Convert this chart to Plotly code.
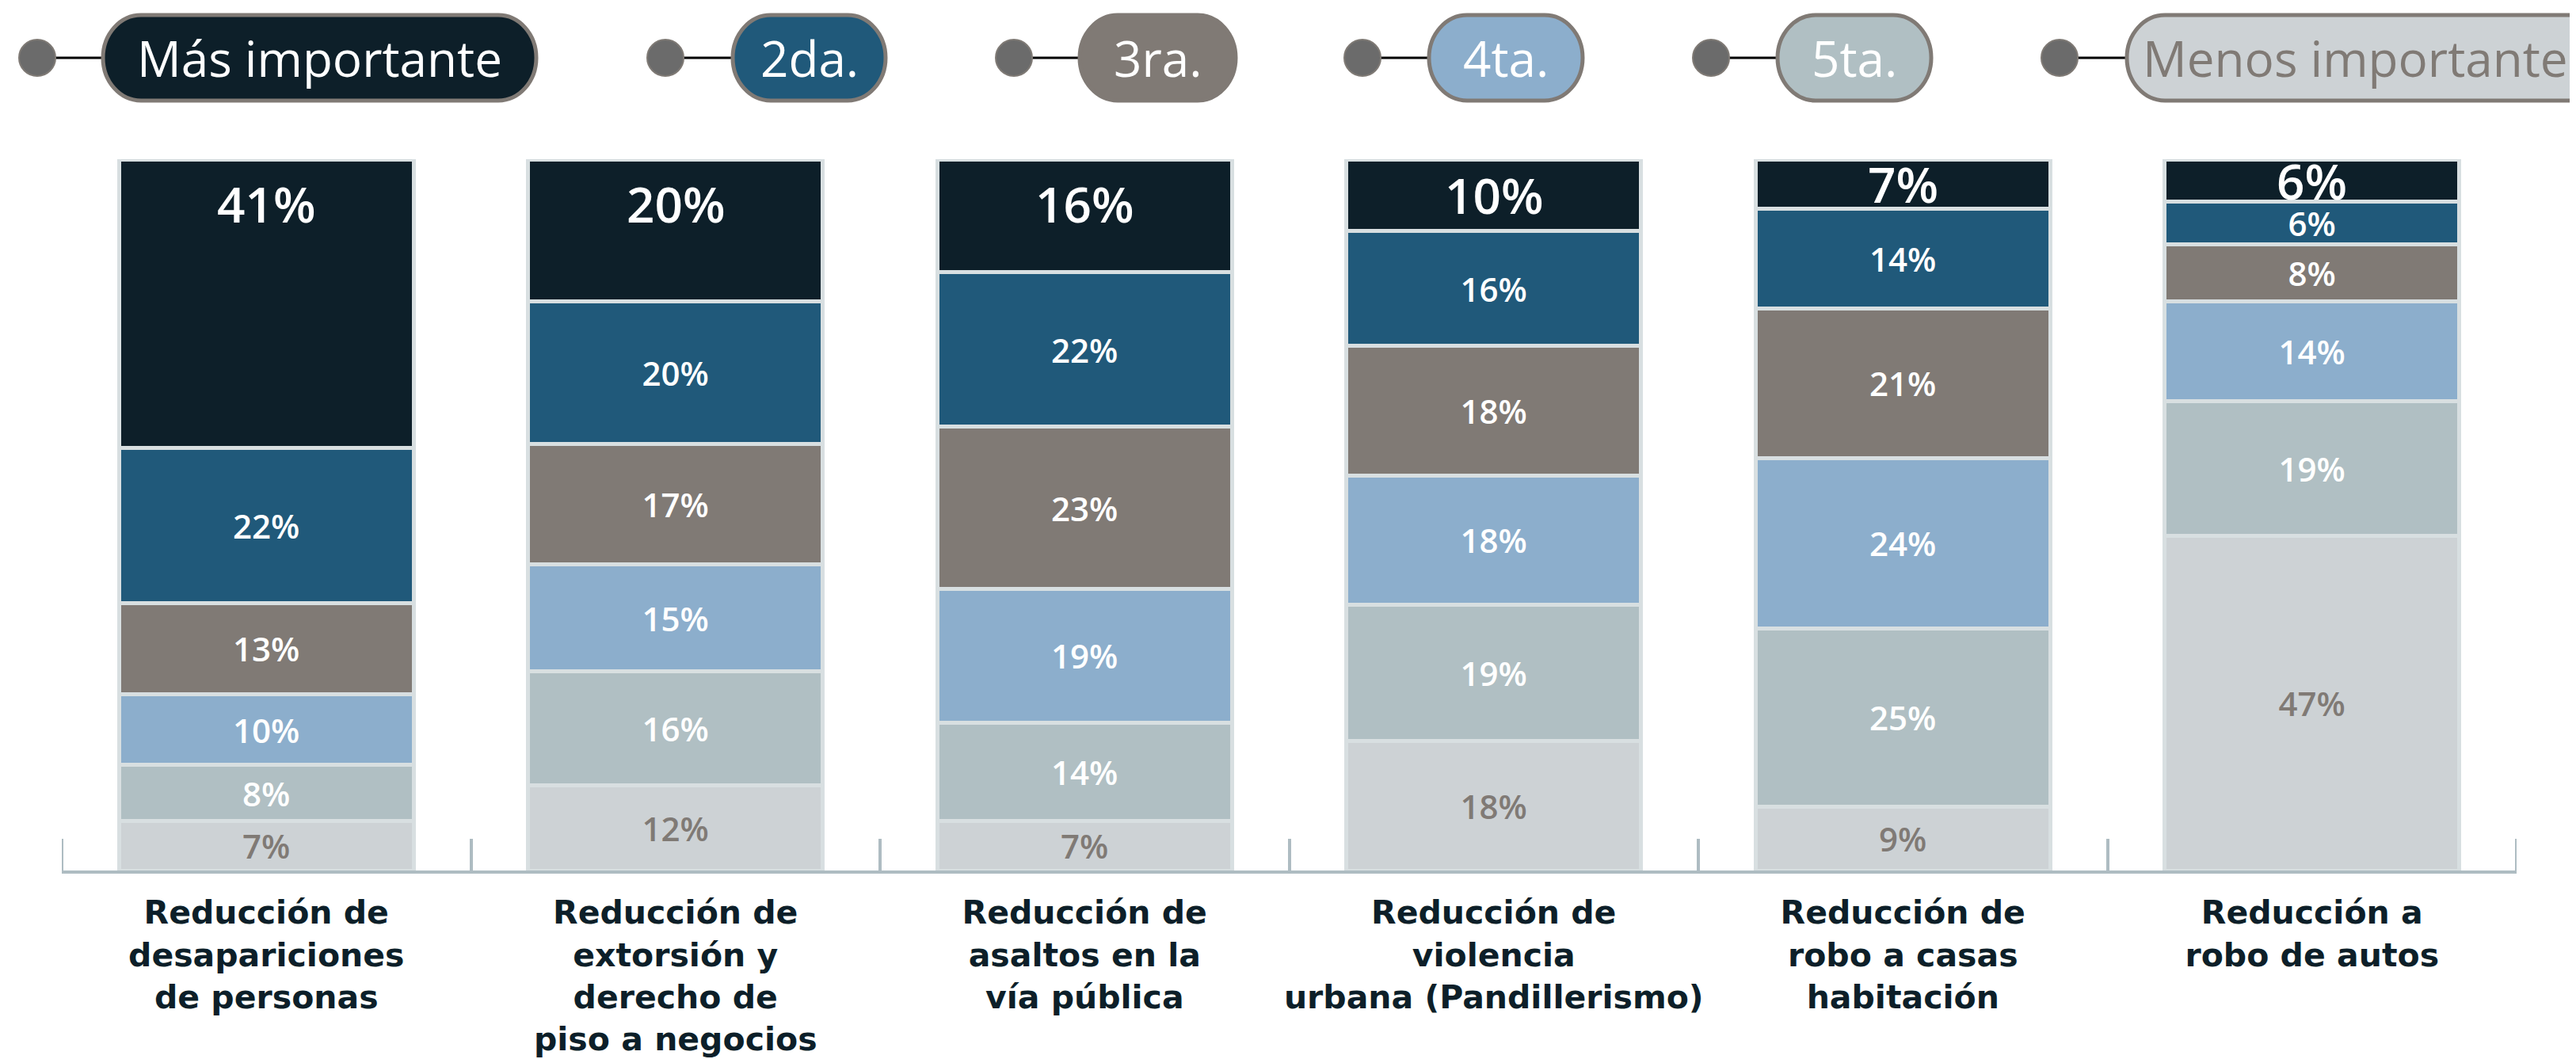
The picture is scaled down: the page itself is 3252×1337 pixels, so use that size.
import plotly.graph_objects as go

# data -------------------------------------------------------------
categorias = [
    'Reducción de<br>desapariciones<br>de personas',
    'Reducción de<br>extorsión y<br>derecho de<br>piso a negocios',
    'Reducción de<br>asaltos en la<br>vía pública',
    'Reducción de<br>violencia<br>urbana (Pandillerismo)',
    'Reducción de<br>robo a casas<br>habitación',
    'Reducción a<br>robo de autos',
]

rangos = ['Más importante', '2da.', '3ra.', '4ta.', '5ta.', 'Menos importante']

mas_importante = [41, 20, 16, 10, 7, 6]
segunda = [22, 20, 22, 16, 14, 6]
tercera = [13, 17, 23, 18, 21, 8]
cuarta = [10, 15, 19, 18, 24, 14]
quinta = [8, 16, 14, 19, 25, 19]
menos_importante = [7, 12, 7, 18, 9, 47]

# styles -----------------------------------------------------------
colores = ['#0d1f29', '#20597a', '#807a75', '#8caecc', '#b0bfc3', '#cdd2d5']
texto_color = ['white', 'white', 'white', 'white', 'white', '#807a75']
font_family = 'Open Sans'
label_family = 'DejaVu Sans'

W, H = 3252, 1337
PAGE_OFFSET = 8  # default body margin of the html page
# plot area in page pixels
PLOT_L, PLOT_R = 78, 3177
PLOT_T, PLOT_B = 201, 1099

# legend layout in page pixels: dot centre x, pill left, pill right
LEGEND_POS = [
    (47, 130, 677),
    (840, 925, 1118),
    (1280, 1363, 1560),
    (1720, 1804, 1998),
    (2160, 2244, 2438),
    (2600, 2685, 3300),
]
LEGEND_Y = 73
PILL_H = 108
DOT_R = 23
TOP_LABEL_OFFSET = 56  # px below the bar top for the big first-rank label


def px_x(x):
    return (x - PLOT_L) / (PLOT_R - PLOT_L)


def px_y(y):
    return (PLOT_B - y) / (PLOT_B - PLOT_T)


def pill_path(x0, x1, yc, h, rx=48):
    ry = h / 2
    yt, yb = yc - ry, yc + ry
    k = 0.5523
    pts = [
        ('M', [(x0 + rx, yt)]),
        ('L', [(x1 - rx, yt)]),
        ('C', [(x1 - rx + k * rx, yt), (x1, yc - k * ry), (x1, yc)]),
        ('C', [(x1, yc + k * ry), (x1 - rx + k * rx, yb), (x1 - rx, yb)]),
        ('L', [(x0 + rx, yb)]),
        ('C', [(x0 + rx - k * rx, yb), (x0, yc + k * ry), (x0, yc)]),
        ('C', [(x0, yc - k * ry), (x0 + rx - k * rx, yt), (x0 + rx, yt)]),
    ]
    path = ''
    for cmd, p in pts:
        path += cmd + ' ' + ' '.join(f'{px_x(a):.5f},{px_y(b):.5f}' for a, b in p) + ' '
    return path + 'Z'


series = [mas_importante, segunda, tercera, cuarta, quinta, menos_importante]
totales = [sum(col) for col in zip(*series)]

fig = go.Figure()

# stack from the bottom (menos importante) to the top (más importante)
for i in reversed(range(len(rangos))):
    vals = series[i]
    top = i == 0
    fig.add_trace(go.Bar(
        x=categorias,
        y=vals,
        name=rangos[i],
        text=None if top else [f'{v}%' for v in vals],
        textposition='none' if top else 'inside',
        insidetextanchor='middle',
        textangle=0,
        constraintext='none',
        textfont=dict(family=font_family, size=42,
                      color=texto_color[i], weight=600),
        marker=dict(color=colores[i], line=dict(color='#d8dfe1', width=5)),
        showlegend=False,
    ))

annotations = []

# big labels of the first-rank segment: near the top, centred if the segment is short
offset = TOP_LABEL_OFFSET / (PLOT_B - PLOT_T) * 100
for cat, v, tot in zip(categorias, mas_importante, totales):
    seg = v / tot * 100
    annotations.append(dict(
        text=f'{v}%', x=cat, y=100 - min(seg / 2, offset), xref='x', yref='y',
        xanchor='center', yanchor='middle', showarrow=False,
        font=dict(family=font_family, size=62, color='white', weight=600),
    ))

shapes = []
for i, (dx, x0, x1) in enumerate(LEGEND_POS):
    shapes.append(dict(
        type='line', xref='paper', yref='paper',
        x0=px_x(dx), x1=px_x(x0), y0=px_y(LEGEND_Y), y1=px_y(LEGEND_Y),
        line=dict(color='black', width=3), layer='above',
    ))
    shapes.append(dict(
        type='circle', xref='paper', yref='paper',
        x0=px_x(dx - DOT_R), x1=px_x(dx + DOT_R),
        y0=px_y(LEGEND_Y - DOT_R), y1=px_y(LEGEND_Y + DOT_R),
        fillcolor='#6b6b6b', line=dict(color='#7f7a75', width=2), layer='above',
    ))
    shapes.append(dict(
        type='path', xref='paper', yref='paper',
        path=pill_path(x0, x1, LEGEND_Y, PILL_H),
        fillcolor=colores[i], line=dict(color='#807a75', width=5), layer='above',
    ))
    cx = (x0 + min(x1, 3262)) / 2
    annotations.append(dict(
        text=rangos[i], xref='paper', yref='paper',
        x=px_x(cx), y=px_y(LEGEND_Y),
        xanchor='center', yanchor='middle', showarrow=False,
        font=dict(family=font_family, size=62, color=texto_color[i], weight=500),
    ))

# outer boundary ticks of the category axis
tick_len = 40
for edge in (-0.5, len(categorias) - 0.5):
    shapes.append(dict(
        type='line', xref='x', yref='paper',
        x0=edge, x1=edge, y0=0, y1=tick_len / (PLOT_B - PLOT_T),
        line=dict(color='#aebcc2', width=4), layer='above',
    ))

fig.update_layout(
    width=W,
    height=H,
    barmode='stack',
    barnorm='percent',
    bargap=0.28,
    plot_bgcolor='white',
    paper_bgcolor='white',
    margin=dict(
        l=PLOT_L - PAGE_OFFSET,
        r=W - (PLOT_R - PAGE_OFFSET),
        t=PLOT_T - PAGE_OFFSET,
        b=H - (PLOT_B - PAGE_OFFSET),
        autoexpand=False,
    ),
    shapes=shapes,
    annotations=annotations,
    font=dict(family=font_family),
)

fig.update_xaxes(
    range=[-0.5, len(categorias) - 0.5],
    automargin=False,
    showline=True,
    linecolor='#aebcc2',
    linewidth=4,
    ticks='inside',
    tickson='boundaries',
    ticklen=tick_len,
    tickwidth=4,
    tickcolor='#aebcc2',
    tickangle=0,
    ticklabelstandoff=14,
    tickfont=dict(family=label_family, size=41, color='#0d1f29', weight='bold'),
    showgrid=False,
    zeroline=False,
)

fig.update_yaxes(visible=False, range=[0, 100], showgrid=False, automargin=False)

fig.write_html('out.html')
